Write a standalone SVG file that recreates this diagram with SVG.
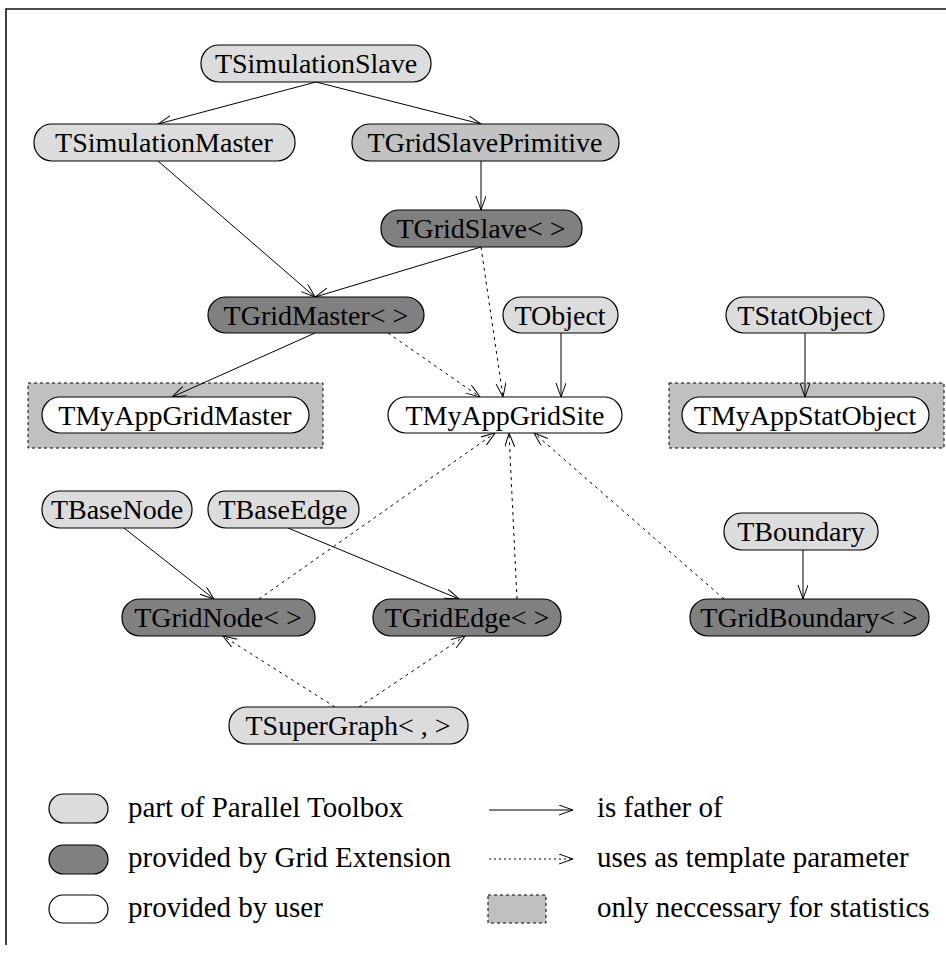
<svg xmlns="http://www.w3.org/2000/svg" width="946" height="953" viewBox="0 0 946 953">
  <style>
    .node rect { stroke: #000; stroke-width: 1.2; }
    .lt { fill: #dcdcdc; }
    .md { fill: #c2c2c2; }
    .dk { fill: #808080; }
    .wh { fill: #ffffff; }
    .node text, .legend text { font-family: "Liberation Serif", "Times New Roman", serif; font-size: 28px; fill: #000; }
    .legend text { font-size: 29px; }
    .node text { text-anchor: middle; }
    .stat { fill: #c0c0c0; stroke: #000; stroke-width: 1; stroke-dasharray: 3 3; }
    .edge { fill: none; stroke: #000; stroke-width: 1; marker-end: url(#head); }
    .uses { stroke-dasharray: 3 4; }
    .frame { fill: none; stroke: #111; stroke-width: 1.6; }
  </style>
  <defs>
    <marker id="head" markerUnits="userSpaceOnUse" markerWidth="16" markerHeight="12" refX="14" refY="5" orient="auto">
      <path d="M0,0 L14,5 L0,10" fill="none" stroke="#000" stroke-width="1" stroke-dasharray="none"/>
    </marker>
  </defs>

  <rect width="946" height="953" fill="#fff"/>
  <path class="frame" d="M6,945 V9 H946"/>

  <!-- statistics-only areas -->
  <rect class="stat" x="28" y="383" width="295" height="65"/>
  <rect class="stat" x="669" y="383" width="275" height="65"/>

  <!-- connectors -->
  <g id="connectors">
    <line class="edge" x1="316" y1="82" x2="158" y2="124"/>
    <line class="edge" x1="316" y1="82" x2="481" y2="124"/>
    <line class="edge" x1="158" y1="161" x2="315" y2="297"/>
    <line class="edge" x1="481" y1="161" x2="481" y2="210"/>
    <line class="edge" x1="481" y1="247" x2="315" y2="297"/>
    <line class="edge uses" x1="481" y1="247" x2="503" y2="397"/>
    <line class="edge uses" x1="388" y1="333" x2="480" y2="397"/>
    <line class="edge" x1="561" y1="333" x2="561" y2="397"/>
    <line class="edge" x1="315" y1="333" x2="172" y2="397"/>
    <line class="edge" x1="805" y1="333" x2="805" y2="397"/>
    <line class="edge" x1="124" y1="528" x2="214" y2="599"/>
    <line class="edge" x1="288" y1="528" x2="459" y2="599"/>
    <line class="edge" x1="803" y1="550" x2="803" y2="599"/>
    <line class="edge uses" x1="259" y1="599" x2="495" y2="433"/>
    <line class="edge uses" x1="517" y1="599" x2="509" y2="433"/>
    <line class="edge uses" x1="724" y1="599" x2="534" y2="433"/>
    <line class="edge uses" x1="335" y1="707" x2="223" y2="636"/>
    <line class="edge uses" x1="359" y1="707" x2="465" y2="636"/>
  </g>

  <!-- classes -->
  <g id="TSimulationSlave" class="node"><rect class="lt" x="201" y="45" width="230" height="37" rx="18"/><text x="316" y="73">TSimulationSlave</text></g>
  <g id="TSimulationMaster" class="node"><rect class="lt" x="34" y="124" width="261" height="37" rx="18"/><text x="164" y="152">TSimulationMaster</text></g>
  <g id="TGridSlavePrimitive" class="node"><rect class="md" x="352" y="124" width="267" height="37" rx="18"/><text x="485" y="152">TGridSlavePrimitive</text></g>
  <g id="TGridSlave" class="node"><rect class="dk" x="381" y="210" width="201" height="37" rx="18"/><text x="481" y="238">TGridSlave&lt; &gt;</text></g>
  <g id="TGridMaster" class="node"><rect class="dk" x="208" y="297" width="216" height="36" rx="18"/><text x="316" y="325">TGridMaster&lt; &gt;</text></g>
  <g id="TObject" class="node"><rect class="lt" x="503" y="297" width="115" height="36" rx="18"/><text x="560" y="325">TObject</text></g>
  <g id="TStatObject" class="node"><rect class="lt" x="726" y="297" width="158" height="36" rx="18"/><text x="805" y="325">TStatObject</text></g>
  <g id="TMyAppGridMaster" class="node"><rect class="wh" x="42" y="397" width="267" height="36" rx="18"/><text x="175" y="425">TMyAppGridMaster</text></g>
  <g id="TMyAppGridSite" class="node"><rect class="wh" x="388" y="397" width="234" height="36" rx="18"/><text x="505" y="425">TMyAppGridSite</text></g>
  <g id="TMyAppStatObject" class="node"><rect class="wh" x="682" y="397" width="247" height="36" rx="18"/><text x="805" y="425">TMyAppStatObject</text></g>
  <g id="TBaseNode" class="node"><rect class="lt" x="42" y="491" width="150" height="37" rx="18"/><text x="117" y="519">TBaseNode</text></g>
  <g id="TBaseEdge" class="node"><rect class="lt" x="208" y="491" width="151" height="37" rx="18"/><text x="283" y="519">TBaseEdge</text></g>
  <g id="TBoundary" class="node"><rect class="lt" x="724" y="513" width="154" height="37" rx="18"/><text x="801" y="541">TBoundary</text></g>
  <g id="TGridNode" class="node"><rect class="dk" x="122" y="599" width="193" height="37" rx="18"/><text x="218" y="627">TGridNode&lt; &gt;</text></g>
  <g id="TGridEdge" class="node"><rect class="dk" x="373" y="599" width="188" height="37" rx="18"/><text x="467" y="627">TGridEdge&lt; &gt;</text></g>
  <g id="TGridBoundary" class="node"><rect class="dk" x="690" y="599" width="239" height="37" rx="18"/><text x="809" y="627">TGridBoundary&lt; &gt;</text></g>
  <g id="TSuperGraph" class="node"><rect class="lt" x="229" y="707" width="239" height="37" rx="18"/><text x="348" y="735">TSuperGraph&lt; , &gt;</text></g>

  <!-- key -->
  <g id="legend" class="legend">
    <g class="node">
      <rect class="lt" x="49" y="794" width="59" height="29" rx="14.5"/>
      <rect class="dk" x="49" y="845" width="59" height="29" rx="14.5"/>
      <rect class="wh" x="49" y="895" width="59" height="28" rx="14"/>
    </g>
    <text x="128" y="817">part of Parallel Toolbox</text>
    <text x="128" y="867">provided by Grid Extension</text>
    <text x="128" y="917">provided by user</text>
    <line class="edge" x1="489" y1="810" x2="573" y2="810"/>
    <line class="edge" x1="489" y1="859" x2="573" y2="859" style="stroke-dasharray: 2 3"/>
    <rect class="stat" x="488" y="895" width="58" height="28"/>
    <text x="597" y="817">is father of</text>
    <text x="597" y="867">uses as template parameter</text>
    <text x="597" y="917">only neccessary for statistics</text>
  </g>
</svg>
